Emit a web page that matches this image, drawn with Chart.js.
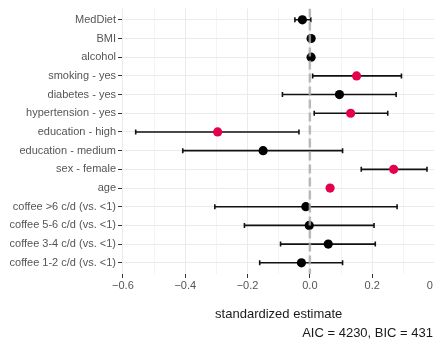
<!DOCTYPE html>
<html>
<head>
<meta charset="utf-8">
<script src="https://cdn.jsdelivr.net/npm/chart.js@4.4.1/dist/chart.umd.min.js"></script>
<style>
  html, body { margin: 0; padding: 0; background: #fff; overflow: hidden; }
  #wrap { width: 434px; height: 342px; position: relative; overflow: hidden; }
  #chart { position: absolute; left: 0; top: 0; }
</style>
</head>
<body>
<div id="wrap"><canvas id="chart" width="440" height="342"></canvas></div>
<script>
// Terms, top to bottom
const terms = [
  'MedDiet', 'BMI', 'alcohol', 'smoking - yes', 'diabetes - yes',
  'hypertension - yes', 'education - high', 'education - medium',
  'sex - female', 'age', 'coffee >6 c/d (vs. <1)', 'coffee 5-6 c/d (vs. <1)',
  'coffee 3-4 c/d (vs. <1)', 'coffee 1-2 c/d (vs. <1)'
];
// Standardized estimates and confidence limits
const estimates = [-0.024, 0.004, 0.004, 0.150, 0.095, 0.131, -0.296, -0.150, 0.269, 0.065, -0.013, -0.002, 0.059, -0.027];
const lower     = [-0.048, -0.002, -0.001, 0.009, -0.088, 0.014, -0.559, -0.408, 0.165, 0.057, -0.305, -0.210, -0.094, -0.161];
const upper     = [0.003, 0.010, 0.009, 0.294, 0.277, 0.250, -0.035, 0.105, 0.376, 0.072, 0.280, 0.206, 0.210, 0.105];
const significant = [false, false, false, true, false, true, true, false, true, true, false, false, false, false];
// x ticks (every 0.1 gets a grid line, labels on every 0.2)
const xTickValues = [-0.6, -0.5, -0.4, -0.3, -0.2, -0.1, 0.0, 0.1, 0.2, 0.3, 0.4];
const xTickLabels = ['\u22120.6', '', '\u22120.4', '', '\u22120.2', '', '0.0', '', '0.2', '', '0.4'];
const fitText = 'AIC = 4230, BIC = 431';

const RED = '#e5004f';
const FONT = '"Liberation Sans", Arial, sans-serif';

// error bars with small caps, drawn under the points
const errorBars = {
  id: 'errorBars',
  beforeDatasetsDraw(chart) {
    const { ctx, scales: { x, y } } = chart;
    ctx.save();
    ctx.strokeStyle = '#111';
    ctx.lineWidth = 1.6;
    terms.forEach((t, i) => {
      const py = y.getPixelForValue(i);
      const x0 = x.getPixelForValue(lower[i]);
      const x1 = x.getPixelForValue(upper[i]);
      ctx.beginPath();
      ctx.moveTo(x0, py); ctx.lineTo(x1, py);
      ctx.moveTo(x0, py - 2.5); ctx.lineTo(x0, py + 2.5);
      ctx.moveTo(x1, py - 2.5); ctx.lineTo(x1, py + 2.5);
      ctx.stroke();
    });
    ctx.restore();
  }
};

// model fit caption at the bottom right (visible window is 434 wide)
const fitCaption = {
  id: 'fitCaption',
  afterDraw(chart) {
    const { ctx } = chart;
    ctx.save();
    ctx.font = '13px ' + FONT;
    ctx.fillStyle = '#1a1a1a';
    ctx.textAlign = 'right';
    ctx.textBaseline = 'middle';
    ctx.fillText(fitText, 433, 333);
    ctx.restore();
  }
};

new Chart(document.getElementById('chart'), {
  type: 'scatter',
  data: {
    datasets: [
      {
        type: 'line',
        data: [{ x: 0, y: -0.6 }, { x: 0, y: terms.length - 0.4 }],
        borderColor: 'rgba(170,170,175,0.8)',
        borderWidth: 2.5,
        borderDash: [9, 4],
        pointRadius: 0,
        order: 0
      },
      {
        data: estimates.map((v, i) => ({ x: v, y: i })),
        pointBackgroundColor: significant.map(s => s ? RED : '#000'),
        pointBorderWidth: 0,
        pointRadius: 4.6,
        order: 1
      }
    ]
  },
  plugins: [errorBars, fitCaption],
  options: {
    responsive: false,
    animation: false,
    layout: { padding: { top: 7, right: 0, bottom: 20, left: 0 } },
    plugins: { legend: { display: false }, tooltip: { enabled: false } },
    scales: {
      x: {
        type: 'linear',
        min: -0.603,
        max: 0.403,
        border: { display: false },
        afterBuildTicks(scale) { scale.ticks = xTickValues.map(v => ({ value: v })); },
        afterFit(scale) { scale.height = 48; scale.paddingLeft = 0; scale.paddingRight = 0; },
        grid: {
          color: ctx => (ctx.index % 2 === 0 ? '#ebebeb' : '#f4f4f4'),
          tickColor: ctx => (ctx.index % 2 === 0 ? '#333' : 'rgba(0,0,0,0)'),
          tickLength: 4,
          lineWidth: 1
        },
        ticks: {
          autoSkip: false,
          maxRotation: 0,
          padding: 1,
          color: '#555',
          font: { family: FONT, size: 11 },
          callback: (v, i) => xTickLabels[i]
        },
        title: {
          display: true,
          text: 'standardized estimate',
          color: '#1a1a1a',
          font: { family: FONT, size: 13 },
          padding: { top: 8, bottom: 0 }
        }
      },
      y: {
        type: 'linear',
        reverse: true,
        min: -0.6,
        max: terms.length - 0.4,
        border: { display: false },
        afterBuildTicks(scale) { scale.ticks = terms.map((t, i) => ({ value: i })); },
        afterFit(scale) { scale.width = 122; },
        grid: { color: '#ebebeb', tickColor: '#333', tickLength: 4, lineWidth: 1 },
        ticks: {
          autoSkip: false,
          padding: 2,
          color: '#555',
          font: { family: FONT, size: 11 },
          callback: (v, i) => terms[i]
        }
      }
    }
  }
});
</script>
</body>
</html>
